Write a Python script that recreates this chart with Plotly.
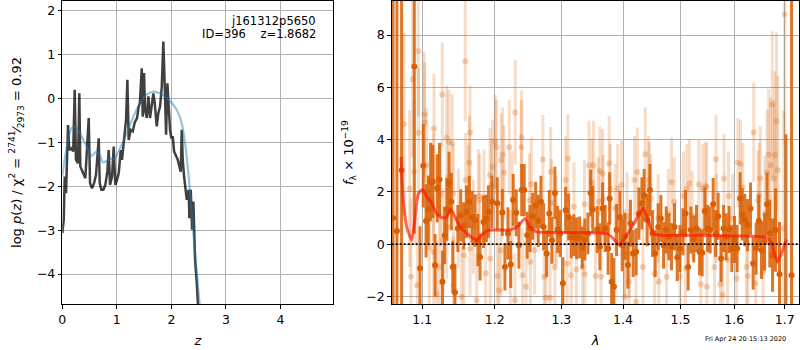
import plotly.graph_objects as go

# ---------------- left panel: log p(z) ----------------
pz_z = [0.0, 0.026, 0.044, 0.068, 0.105, 0.128, 0.165, 0.2, 0.227, 0.25,
        0.288, 0.312, 0.33, 0.374, 0.422, 0.484, 0.508, 0.545, 0.582, 0.618,
        0.668, 0.686, 0.716, 0.752, 0.789, 0.826, 0.851, 0.875, 0.912, 0.943,
        0.972, 1.004, 1.035, 1.072, 1.095, 1.119, 1.169, 1.193, 1.218, 1.255,
        1.292, 1.328, 1.371, 1.401, 1.422, 1.457, 1.475, 1.499, 1.517, 1.549,
        1.578, 1.609, 1.64, 1.67, 1.695, 1.732, 1.761, 1.793, 1.824, 1.853,
        1.879, 1.903, 1.927, 1.952, 1.976, 2.0, 2.026, 2.05, 2.086, 2.117,
        2.147, 2.172, 2.191, 2.209, 2.233, 2.257, 2.283, 2.319, 2.33, 2.356,
        2.38, 2.404, 2.435, 2.466, 2.484, 2.52]
pz_logp = [-3.07, -2.77, -1.78, -2.16, -0.61, -1.18, -1.14, -1.21, 0.19, -1.4,
           -1.48, 0.11, -1.55, -1.67, -1.82, -0.45, -1.93, -2.05, -1.93, -1.74,
           -0.91, -1.93, -2.08, -2.08, -1.97, -1.67, -1.18, -1.97, -1.78, -1.1,
           -1.97, -1.86, -1.7, -1.18, -1.4, -1.1, -0.49, 0.42, -0.95, -0.72,
           -0.75, -0.55, -0.45, -0.19, -0.11, 0.68, -0.42, 0.57, -0.27, -0.45,
           0.04, -0.45, -0.15, 0.11, -0.11, -0.64, -0.34, -0.19, 0.26, 1.29,
           0.26, -0.83, 0.34, -0.19, -0.72, -0.91, -0.87, -1.21, -1.33, -1.4,
           -1.55, -1.67, -0.72, -1.4, -1.78, -2.08, -2.31, -2.08, -2.73, -2.08,
           -2.99, -2.35, -3.68, -4.2, -4.66, -5.4]

prior_z = [0.0, 0.05, 0.11, 0.172, 0.233, 0.325, 0.447, 0.539, 0.62, 0.69,
           0.75, 0.875, 0.967, 1.059, 1.181, 1.303, 1.426, 1.548, 1.67, 1.793,
           1.915, 2.037, 2.128, 2.191, 2.251, 2.312, 2.374, 2.435, 2.495, 2.56]
prior_logp = [-1.78, -1.33, -0.95, -0.68, -0.65, -0.8, -1.1, -1.31, -1.22, -1.3,
              -1.46, -1.38, -1.36, -1.14, -0.8, -0.42, -0.11, 0.08, 0.15, 0.11,
              0.0, -0.15, -0.34, -0.57, -1.02, -1.7, -2.61, -3.52, -4.36, -5.3]

z_ticks = [0, 1, 2, 3, 4]
logp_ticks = [-4, -3, -2, -1, 0, 1, 2]

# ---------------- right panel: spectrum ----------------
dark_wave = [1.062, 1.067, 1.073, 1.0895, 1.097, 1.1013, 1.105, 1.108, 1.111, 1.114,
             1.117, 1.120, 1.123, 1.127, 1.130, 1.133, 1.136, 1.139, 1.141, 1.144,
             1.148, 1.152, 1.156, 1.160, 1.164, 1.168, 1.172, 1.176, 1.179, 1.184,
             1.188, 1.191, 1.196, 1.2037, 1.211, 1.2148, 1.2192, 1.2232, 1.227, 1.2314,
             1.2354, 1.2395, 1.2433, 1.2478, 1.252, 1.256, 1.2605, 1.2644, 1.2685, 1.2726,
             1.2772, 1.2812, 1.2853, 1.2899, 1.2942, 1.2982, 1.3024, 1.3067, 1.3114, 1.3155,
             1.3197, 1.324, 1.3288, 1.333, 1.3372, 1.3422, 1.3465, 1.350, 1.3572, 1.3615,
             1.366, 1.3703, 1.3752, 1.3776, 1.3809, 1.3847, 1.3892, 1.3947, 1.3985, 1.4033,
             1.4082, 1.4125, 1.4171, 1.4222, 1.4269, 1.432, 1.4359, 1.4411, 1.4459, 1.4505,
             1.455, 1.4603, 1.4651, 1.4698, 1.4745, 1.4792, 1.4839, 1.4893, 1.4941, 1.4989,
             1.5043, 1.5091, 1.5139, 1.5188, 1.524, 1.5291, 1.5346, 1.5396, 1.5445, 1.5496,
             1.5544, 1.56, 1.5646, 1.5694, 1.575, 1.5796, 1.5845, 1.5902, 1.5953, 1.6006,
             1.6056, 1.6114, 1.6153, 1.6204, 1.6258, 1.6316, 1.6367, 1.6426, 1.6479, 1.6533,
             1.6593, 1.6644, 1.6698, 1.6753, 1.6813, 1.6894, 1.7025, 1.714]
dark_flux = [1.0, 0.5, 2.83, 6.8, -0.92, 3.0, 0.89, 1.33, 2.38, 2.4,
             -0.81, 2.14, 2.47, -1.44, 0.33, 1.33, 2.33, 1.63, -0.87, -1.85,
             0.6, 1.1, 0.7, 1.24, 1.62, 1.04, 0.9, 0.15, -0.49, 0.85,
             0.98, 1.24, 1.62, 1.56, 1.21, -0.87, 0.41, -0.78, 1.68, 1.2,
             -0.04, 2.07, 2.07, 0.34, 0.6, 1.07, 1.49, 0.89, 1.62, 0.66,
             -0.36, 1.17, 0.15, 1.96, 0.56, 0.41, -1.5, 1.3, 1.04, 0.26,
             0.34, 0.22, 0.26, -0.13, 0.18, 0.41, 1.96, 1.33, 0.56, -0.1,
             1.36, 0.6, -0.17, 1.75, -1.44, -1.63, 0.54, 1.04, -0.04, 0.3,
             -0.8, 0.8, -0.36, -0.29, 1.17, 1.56, 1.87, 0.92, 2.07, 0.41,
             -0.36, 0.66, 0.98, -0.04, 0.54, 0.28, -0.1, 0.66, -0.51, -0.17,
             0.47, 1.17, -0.87, 0.54, 0.2, 0.6, -0.29, -0.33, 1.27, 0.6,
             0.54, 1.53, 0.41, 1.07, -0.55, 0.6, 0.28, 0.56, -0.17, 0.18,
             -0.17, 1.75, 1.14, 0.92, 0.73, 1.36, -0.74, -0.17, 0.89, -0.23,
             0.09, 1.53, 0.41, -0.42, 0.54, -1.15, -2.6, -1.19]
dark_err = [15.0, 15.0, 12.0, 6.4, 1.6, 1.6, 1.4, 1.3, 1.5, 1.4,
            1.2, 1.3, 1.4, 1.2, 1.1, 1.2, 1.2, 1.1, 1.0, 1.1,
            0.9, 1.0, 0.9, 1.0, 1.0, 1.0, 1.0, 1.0, 0.9, 1.0,
            0.9, 1.0, 1.0, 1.0, 0.9, 0.9, 1.0, 0.9, 1.0, 0.9,
            0.9, 1.0, 1.0, 0.9, 0.9, 0.9, 0.9, 1.0, 1.0, 0.9,
            0.9, 0.9, 0.9, 1.0, 0.9, 0.9, 1.0, 0.9, 0.9, 0.8,
            0.8, 0.8, 0.8, 0.8, 0.8, 0.8, 0.9, 0.9, 0.9, 0.9,
            1.0, 0.9, 1.0, 1.0, 1.1, 1.1, 1.0, 1.0, 1.0, 0.9,
            0.9, 0.9, 0.9, 0.9, 1.0, 1.0, 1.0, 1.0, 1.0, 0.9,
            0.9, 0.9, 0.9, 0.9, 0.9, 0.9, 0.9, 0.9, 0.9, 0.9,
            0.9, 0.9, 0.9, 0.9, 0.9, 0.9, 0.9, 0.9, 0.9, 0.9,
            0.9, 1.0, 0.9, 0.9, 0.9, 0.9, 0.9, 0.9, 0.9, 0.9,
            0.9, 1.0, 1.0, 1.0, 1.0, 1.0, 1.0, 1.0, 1.0, 1.1,
            1.1, 1.2, 1.3, 1.4, 1.6, 2.0, 6.8, 12.0]

light_wave = [1.0761, 1.0835, 1.0852, 1.0874, 1.0895, 1.0934, 1.0947, 1.0951, 1.1026, 1.1030,
              1.1058, 1.1093, 1.1148, 1.1150, 1.1156, 1.1192, 1.1227, 1.1246, 1.1267, 1.128,
              1.1327, 1.1330, 1.1355, 1.14, 1.1418, 1.1420, 1.1487, 1.1533, 1.1565, 1.1583,
              1.1588, 1.1623, 1.1641, 1.1649, 1.1650, 1.1695, 1.1742, 1.1766, 1.1786, 1.1846,
              1.187, 1.1932, 1.1935, 1.1952, 1.197, 1.2008, 1.2025, 1.2037, 1.2062, 1.2089,
              1.2091, 1.2115, 1.2134, 1.2212, 1.2227, 1.2255, 1.2295, 1.23, 1.239, 1.2394,
              1.2407, 1.2459, 1.2512, 1.2525, 1.2538, 1.2589, 1.2715, 1.2734, 1.276, 1.2825,
              1.2834, 1.2846, 1.2899, 1.2925, 1.3067, 1.309, 1.3102, 1.3156, 1.3199, 1.3236,
              1.3336, 1.3366, 1.3371, 1.3438, 1.3481, 1.3512, 1.3545, 1.359, 1.3615, 1.3635,
              1.3659, 1.3668, 1.3768, 1.3787, 1.3866, 1.3909, 1.3973, 1.4024, 1.4031, 1.4068,
              1.4098, 1.4107, 1.4194, 1.4219, 1.4241, 1.4339, 1.4378, 1.4435, 1.4445, 1.4473,
              1.4541, 1.4603, 1.4613, 1.4752, 1.4782, 1.4839, 1.4888, 1.4989, 1.5052, 1.5091,
              1.5112, 1.5162, 1.5212, 1.5334, 1.537, 1.5403, 1.5456, 1.548, 1.5482, 1.5624,
              1.5653, 1.5662, 1.5735, 1.5779, 1.5804, 1.5874, 1.589, 1.5967, 1.6046, 1.6071,
              1.6121, 1.6166, 1.6236, 1.6266, 1.6378, 1.6418, 1.6462, 1.6488, 1.6509, 1.6565,
              1.6598, 1.6644, 1.6676, 1.6712, 1.6747, 1.678, 1.68, 1.6833, 1.6861, 1.698,
              1.6999]
light_flux = [4.59, 2.13, -1.25, 6.31, 2.78, -1.57, 7.38, 4.26, 4.97, 4.65,
              3.02, -0.13, 2.19, -0.29, 4.42, -1.89, -0.87, 1.89, 5.72, 0.15,
              4.07, 0.66, 3.91, 3.85, 1.94, -1.58, 0.98, -2.01, -0.42, 7.0,
              2.45, 2.0, 3.12, 4.27, -0.17, 0.66, -2.14, 1.84, 1.68, 1.81,
              -1.12, 2.64, -0.55, 2.26, 2.96, 3.91, 3.72, -1.22, -1.76, -0.23,
              3.21, 3.43, 2.74, 3.71, -0.49, 1.75, -2.14, 5.04, 3.71, 4.09,
              -1.19, -1.63, 1.68, -0.68, 2.29, -0.23, 3.24, -1.25, -2.05, -2.05,
              2.78, 1.56, -0.87, 0.92, 2.45, -0.74, 3.28, -1.19, 1.43, -0.97,
              -0.87, 1.53, -1.15, 3.02, 2.35, 3.02, -1.22, 1.62, 2.8, -1.25,
              2.7, 1.71, 3.09, 2.13, 1.37, 2.13, 2.26, -0.36, -2.01, 1.04,
              -1.44, -0.36, 2.45, -2.21, 2.76, -0.87, 3.44, 2.45, 2.22, 1.75,
              -1.12, 0.98, -1.44, -1.25, 1.17, 2.38, 1.62, -1.25, 1.84, -0.93,
              2.13, 2.32, 1.11, 2.28, -1.53, 2.13, 2.22, 2.19, -1.63, -0.87,
              3.25, 0.98, -1.53, -1.95, 2.51, -0.61, 1.84, 0.98, -1.31, 3.12,
              3.06, 2.17, -0.87, -1.22, 4.27, -1.5, 1.68, 1.87, 2.51, -1.06,
              1.17, 2.74, 3.43, 3.02, 5.34, 2.51, 3.41, 4.7, 2.83, 0.6,
              8.78]
light_err = [3.5, 3.0, 3.0, 3.0, 2.8, 2.6, 2.5, 2.5, 2.4, 2.3,
             2.2, 2.2, 2.1, 2.1, 2.1, 2.0, 2.0, 2.0, 2.0, 2.0,
             2.0, 2.0, 2.0, 1.9, 1.9, 1.9, 1.9, 1.9, 1.9, 2.3,
             1.8, 1.8, 1.8, 1.8, 1.8, 1.8, 1.8, 1.8, 1.8, 1.8,
             1.8, 1.8, 1.8, 1.8, 1.8, 1.8, 1.8, 1.8, 1.8, 1.8,
             1.8, 1.8, 1.8, 1.8, 1.8, 1.8, 1.8, 2.0, 1.8, 1.8,
             1.8, 1.8, 1.8, 1.8, 1.8, 1.7, 1.7, 1.7, 1.7, 1.7,
             1.7, 1.7, 1.7, 1.7, 1.7, 1.7, 1.7, 1.7, 1.7, 1.7,
             1.7, 1.7, 1.7, 1.7, 1.7, 1.7, 1.7, 1.7, 1.7, 1.7,
             1.7, 1.7, 1.8, 1.7, 1.7, 1.7, 1.7, 1.7, 1.7, 1.7,
             1.7, 1.7, 1.7, 1.7, 1.7, 1.7, 1.8, 1.7, 1.7, 1.7,
             1.7, 1.7, 1.7, 1.7, 1.7, 1.7, 1.7, 1.7, 1.7, 1.7,
             1.7, 1.7, 1.7, 1.7, 1.7, 1.7, 1.7, 1.7, 1.7, 1.7,
             1.7, 1.7, 1.7, 1.7, 1.7, 1.7, 1.7, 1.7, 1.7, 1.7,
             1.7, 1.7, 1.7, 1.7, 1.9, 1.8, 1.9, 2.0, 2.0, 2.0,
             2.2, 2.4, 2.5, 2.6, 2.8, 3.0, 3.2, 3.4, 3.6, 4.5,
             5.0]

model_wave = [1.0722, 1.0752, 1.0796, 1.0861, 1.0917, 1.0948, 1.1005, 1.1058, 1.1116, 1.1192,
              1.1259, 1.1327, 1.1382, 1.1441, 1.151, 1.1602, 1.1742, 1.1836, 1.1932, 1.2221,
              1.2344, 1.2443, 1.2518, 1.262, 1.303, 1.3726, 1.3835, 1.3935, 1.406, 1.4201,
              1.4342, 1.4428, 1.4515, 1.4633, 1.5291, 1.5915, 1.6634, 1.6733, 1.6853, 1.7037]
model_flux = [3.34, 1.68, 0.66, 0.15, 1.3, 1.94, 2.09, 1.81, 1.62, 1.17,
              1.01, 1.04, 1.34, 1.04, 0.66, 0.41, 0.15, 0.41, 0.54, 0.54,
              0.7, 0.98, 0.66, 0.47, 0.45, 0.41, 0.22, -0.04, 0.34, 0.85,
              1.37, 0.92, 0.41, 0.34, 0.34, 0.31, 0.26, 0.03, -0.68, 0.18]

wave_ticks = [1.1, 1.2, 1.3, 1.4, 1.5, 1.6, 1.7]
flux_ticks = [-2, 0, 2, 4, 6, 8]

# ---------------- styling ----------------
FONT = "DejaVu Sans"
ORANGE = "rgb(217,95,2)"
ORANGE_LIGHT = "rgba(217,95,2,0.27)"
GRID = "#b0b0b0"


def fmt(v):
    s = f"{v:g}"
    return s.replace("-", "\u2212")


fig = go.Figure()

# left panel
fig.add_trace(go.Scatter(x=pz_z, y=pz_logp, mode="lines",
                         line=dict(color="rgba(0,0,0,0.75)", width=2.5),
                         xaxis="x", yaxis="y", showlegend=False))
fig.add_trace(go.Scatter(x=prior_z, y=prior_logp, mode="lines",
                         line=dict(color="rgba(31,119,180,0.45)", width=2.2, shape="spline", smoothing=0.8),
                         xaxis="x", yaxis="y", showlegend=False))

# right panel
fig.add_trace(go.Scatter(x=light_wave, y=light_flux, mode="markers",
                         marker=dict(color=ORANGE_LIGHT, size=6),
                         error_y=dict(type="data", array=light_err, thickness=3, width=0,
                                      color="rgba(217,95,2,0.22)"),
                         xaxis="x2", yaxis="y2", showlegend=False))
fig.add_trace(go.Scatter(x=dark_wave, y=dark_flux, mode="markers",
                         marker=dict(color=ORANGE, size=6),
                         error_y=dict(type="data", array=dark_err, thickness=3, width=0,
                                      color="rgba(217,95,2,0.85)"),
                         xaxis="x2", yaxis="y2", showlegend=False))
fig.add_trace(go.Scatter(x=model_wave, y=model_flux, mode="lines",
                         line=dict(color="rgba(255,20,0,0.65)", width=3, shape="spline", smoothing=0.5),
                         xaxis="x2", yaxis="y2", showlegend=False))

fig.add_shape(type="line", xref="x2 domain", x0=0, x1=1, yref="y2", y0=0, y1=0,
              line=dict(color="black", width=1.6, dash="2px,2px"), layer="above")

axis_common = dict(showline=True, linecolor="black", linewidth=1, mirror=True,
                   ticks="outside", ticklen=3.5, tickwidth=1, tickcolor="black",
                   showgrid=True, gridcolor=GRID, gridwidth=0.8, zeroline=False,
                   automargin=False,
                   tickfont=dict(family=FONT, size=12.5, color="black"))

fig.update_layout(
    width=800, height=350,
    margin=dict(l=0, r=0, t=0, b=0),
    paper_bgcolor="white", plot_bgcolor="white",
    font=dict(family=FONT, size=12.5, color="black"),
    xaxis=dict(domain=[0.0779, 0.4166], range=[0, 4.97], anchor="y",
               tickvals=z_ticks, ticktext=[fmt(v) for v in z_ticks],
               title=dict(text="<i>z</i>", standoff=10, font=dict(family=FONT, size=13)),
               **axis_common),
    yaxis=dict(domain=[0.1314, 0.9971], range=[-4.68, 2.21], anchor="x",
               tickvals=logp_ticks, ticktext=[fmt(v) for v in logp_ticks],
               title=dict(text="log <i>p</i>(<i>z</i>) / χ<sup>2</sup> = <sup>2741</sup>⁄<sub>2973</sub> = 0.92",
                          standoff=12, font=dict(family=FONT, size=13)),
               **axis_common),
    xaxis2=dict(domain=[0.4896, 0.9991], type="log", range=[0.02543, 0.23805], anchor="y2",
                tickvals=wave_ticks, ticktext=[f"{v:.1f}" for v in wave_ticks],
                title=dict(text="<i>λ</i>", standoff=10, font=dict(family=FONT, size=13)),
                **axis_common),
    yaxis2=dict(domain=[0.1314, 0.9971], range=[-2.29, 9.3], anchor="x2",
                tickvals=flux_ticks, ticktext=[fmt(v) for v in flux_ticks],
                title=dict(text="<i>f</i><sub>λ</sub> × 10<sup>−19</sup>", standoff=9,
                           font=dict(family=FONT, size=13)),
                **axis_common),
)

fig.add_annotation(xref="paper", yref="paper", x=318 / 800, y=1 - 20.5 / 350,
                   xanchor="right", yanchor="middle", showarrow=False,
                   text="j161312p5650", font=dict(family=FONT, size=11.5, color="black"))
fig.add_annotation(xref="paper", yref="paper", x=318 / 800, y=1 - 34 / 350,
                   xanchor="right", yanchor="middle", showarrow=False,
                   text="ID=396\u00a0\u00a0\u00a0\u00a0z=1.8682", font=dict(family=FONT, size=11.5, color="black"))
fig.add_annotation(xref="paper", yref="paper", x=788 / 800, y=1 - 339 / 350,
                   xanchor="right", yanchor="middle", showarrow=False,
                   text="Fri Apr 24 20:15:13 2020", font=dict(family=FONT, size=6.5, color="black"))

fig.write_html("out.html", config={"displayModeBar": False},
               post_script="document.body.style.margin='0';document.body.style.overflow='hidden';")
